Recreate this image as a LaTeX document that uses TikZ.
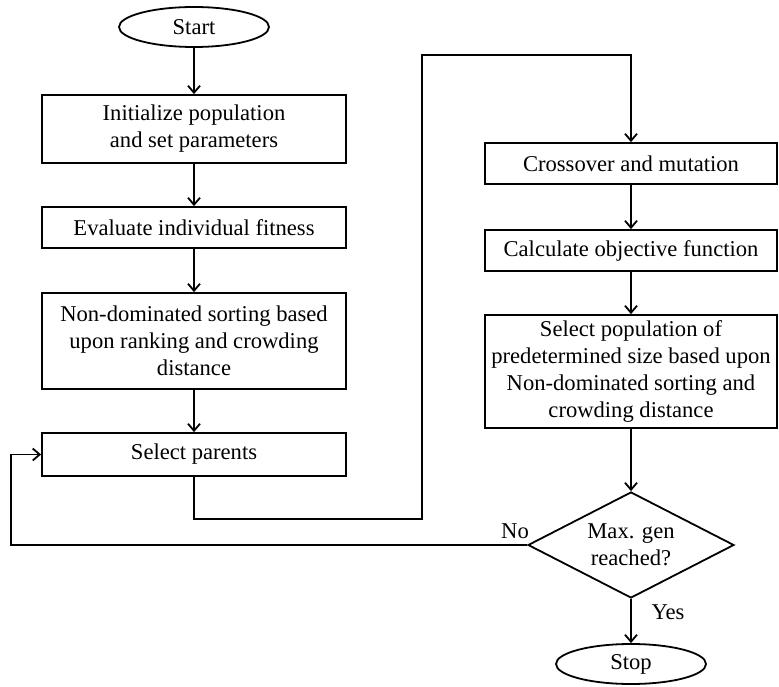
\documentclass[tikz,border=0pt]{standalone}
\usepackage{fontspec}
\setmainfont{Liberation Serif}
\usetikzlibrary{shapes.geometric,arrows.meta}
\begin{document}
\begin{tikzpicture}[x=1pt,y=-1pt,
  every node/.style={font=\fontsize{22.6}{27}\selectfont},
  line/.style={line width=1.8pt},
  arrow/.style={line/.try,-{Straight Barb[length=7pt,width=12pt,line width=1.8pt]}},
  box/.style={draw,line width=1.8pt,rectangle,align=center,inner sep=0pt},
  lbox/.style={box,minimum width=304pt},
  rbox/.style={box,minimum width=292pt},
  term/.style={draw,line width=1.8pt,ellipse,minimum width=150pt,minimum height=40pt,inner sep=0pt},
  decision/.style={draw,line width=1.8pt,diamond,aspect=1.94,minimum width=206pt,minimum height=106pt,inner sep=0pt,align=center},
  lbl/.style={inner sep=0pt}
]
\useasboundingbox (0,0) rectangle (779,687);

% left column
\node[term] (start) at (194,27) {Start};
\node[lbox,minimum height=68pt] (init) at (194,129) {Initialize population\\and set parameters};
\node[lbox,minimum height=41pt] (eval) at (194,227.5) {Evaluate individual fitness};
\node[lbox,minimum height=96pt] (sort) at (194,341) {Non-dominated sorting based\\upon ranking and crowding\\distance};
\node[lbox,minimum height=43pt] (parents) at (194,454.5) {Select parents};

% right column
\node[rbox,minimum height=41pt] (cross) at (631,163.5) {Crossover and mutation};
\node[rbox,minimum height=41pt] (obj) at (631,250.5) {Calculate objective function};
\node[rbox,minimum height=113pt] (selpop) at (631,371.5) {Select population of\\predetermined size based upon\\Non-dominated sorting and\\crowding distance};
\node[decision] (dec) at (631,545) {Max. gen\\reached?};
\node[term] (stop) at (631,664) {Stop};

% bends of the loop connectors
\coordinate (loopbot) at (422,519);
\coordinate (looptop) at (422,55);
\coordinate (noleft) at (11,545);

% connectors
\draw[arrow] (start) -- (init);
\draw[arrow] (init) -- (eval);
\draw[arrow] (eval) -- (sort);
\draw[arrow] (sort) -- (parents);
\draw[arrow] (parents.south) |- (loopbot) -- (looptop) -| (cross.north);
\draw[arrow] (cross) -- (obj);
\draw[arrow] (obj) -- (selpop);
\draw[arrow] (selpop) -- (dec);
\draw[arrow] (dec) -- (stop);
\draw[arrow] (dec.west) -- (noleft) |- (parents.west);

% branch labels
\node[lbl] (nolbl) at (515,531) {No};
\node[lbl] (yeslbl) at (668,612) {Yes};
\end{tikzpicture}
\end{document}
